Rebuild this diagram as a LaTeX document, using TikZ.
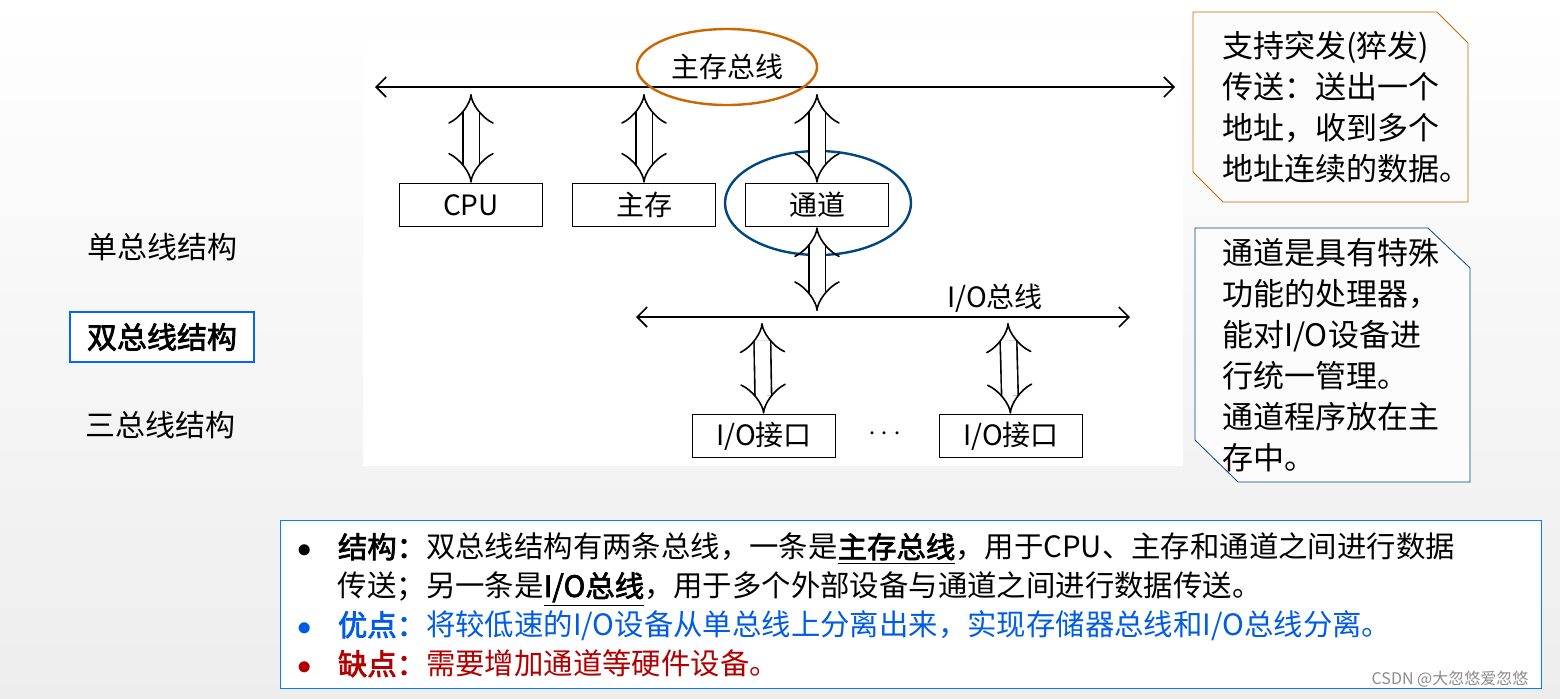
\documentclass[tikz,border=0pt]{standalone}
\usepackage{fontspec}
\setmainfont{Liberation Serif}
\newfontfamily\cjk[AutoFakeBold=2.5]{Noto Sans CJK SC}
\usetikzlibrary{arrows.meta,positioning}
\begin{document}
\begin{tikzpicture}
		[x=0.5pt,y=-0.5pt,
		block/.style ={rectangle, draw=black, thick, fill=white, minimum width=71.5pt, minimum height=21.5pt, font=\cjk\fontsize{14}{16}\selectfont},
		bus/.style ={draw, thick, {Straight Barb[length=5pt]}-{Straight Barb[length=5pt]}},
		dbl/.style ={draw, thick, double distance=7.5pt, {Implies[length=6pt]}-{Implies[length=6pt]}},
		ring/.style ={draw, very thick},
		note/.style ={align=left, font=\cjk\fontsize{15.5}{20.5}\selectfont},
		side/.style ={font=\cjk\fontsize{15}{18}\selectfont},
		]
		% background
		\fill[top color=white, bottom color=black!7] (0,0) rectangle (1560,698);
		\fill[white] (363,40) rectangle (1183,466);

		% main bus
		\coordinate (ML) at (375,87);
		\coordinate (MR) at (1175,87);
		\draw[bus] (ML) -- (MR);
		\draw (727,67) node[font=\cjk\fontsize{14}{16}\selectfont] (MB) {主存总线};
		\draw[ring, draw=orange!80!black] (727,67) ellipse [x radius=90, y radius=38];

		\draw (471,205) node[block] (CPU) {CPU};
		\draw (644,205) node[block] (MEM) {主存};
		\draw (817,205) node[block] (CH) {通道};
		\draw[ring, draw=blue!45!cyan!50!black] (818,203) ellipse [x radius=93, y radius=52];

		\coordinate (B1) at (471,94);
		\coordinate (B2) at (644,94);
		\coordinate (B3) at (817,94);
		\draw[dbl] (B1) -- (CPU);
		\draw[dbl] (B2) -- (MEM);
		\draw[dbl] (B3) -- (CH);

		% I/O bus
		\coordinate (IL) at (636,317);
		\coordinate (IR) at (1130,317);
		\draw[bus] (IL) -- (IR);
		\draw (995,298) node[font=\cjk\fontsize{14}{16}\selectfont] (IB) {I/O总线};
		\coordinate (I0) at (817,311);
		\coordinate (I1) at (762,323);
		\coordinate (I2) at (1008,323);
		\draw[dbl] (CH) -- (I0);

		\draw (764,436) node[block] (IO1) {I/O接口};
		\draw (1011,436) node[block] (IO2) {I/O接口};
		\draw (885,434) node[font=\fontsize{14}{16}\selectfont] (DOTS) {$\cdots$};
		\draw[dbl] (I1) -- (IO1);
		\draw[dbl] (I2) -- (IO2);

		% left labels
		\draw (162,247) node[side] (S1) {单总线结构};
		\draw (162,337) node[side, font=\cjk\bfseries\fontsize{15}{18}\selectfont, draw=blue!60!cyan, very thick, fill=white, minimum width=92pt, minimum height=25pt] (S2) {双总线结构};
		\draw (160,425) node[side] (S3) {三总线结构};

		% notes
		\draw[orange!80!black, fill=black!1] (1193,12) -- (1437,12) -- (1468,43) -- (1468,202) -- (1223,202) -- (1193,172) -- cycle;
		\draw (1215,107) node[note, anchor=west] (N1) {支持突发(猝发)\\传送：送出一个\\地址，收到多个\\地址连续的数据。};
		\draw[blue!45!cyan!50!black, fill=black!1] (1195,228) -- (1428,228) -- (1470,268) -- (1470,482) -- (1238,482) -- (1195,440) -- cycle;
		\draw (1215,355) node[note, anchor=west] (N2) {通道是具有特殊\\功能的处理器，\\能对I/O设备进\\行统一管理。\\通道程序放在主\\存中。};

		% summary
		\draw[blue!50!cyan, fill=white] (280,520) rectangle (1541,688);
		\draw (290,526) node[anchor=north west, align=left, font=\cjk\fontsize{14.7}{19.5}\selectfont] (SUM) {%
		$\bullet$\hspace{0.9em}\textbf{结构：}双总线结构有两条总线，一条是\underline{\textbf{主存总线}}，用于CPU、主存和通道之间进行数据\\
		\hphantom{$\bullet$}\hspace{0.9em}传送；另一条是\underline{\textbf{I/O总线}}，用于多个外部设备与通道之间进行数据传送。\\
		\color{blue!60!cyan!90!black}$\bullet$\hspace{0.9em}\textbf{优点：}将较低速的I/O设备从单总线上分离出来，实现存储器总线和I/O总线分离。\\
		\color{red!70!black}$\bullet$\hspace{0.9em}\textbf{缺点：}需要增加通道等硬件设备。};
		\draw (1450,679) node[font=\cjk\fontsize{8}{9}\selectfont, text=black!45] (WM) {CSDN @大忽悠爱忽悠};
	\end{tikzpicture}
\end{document}
